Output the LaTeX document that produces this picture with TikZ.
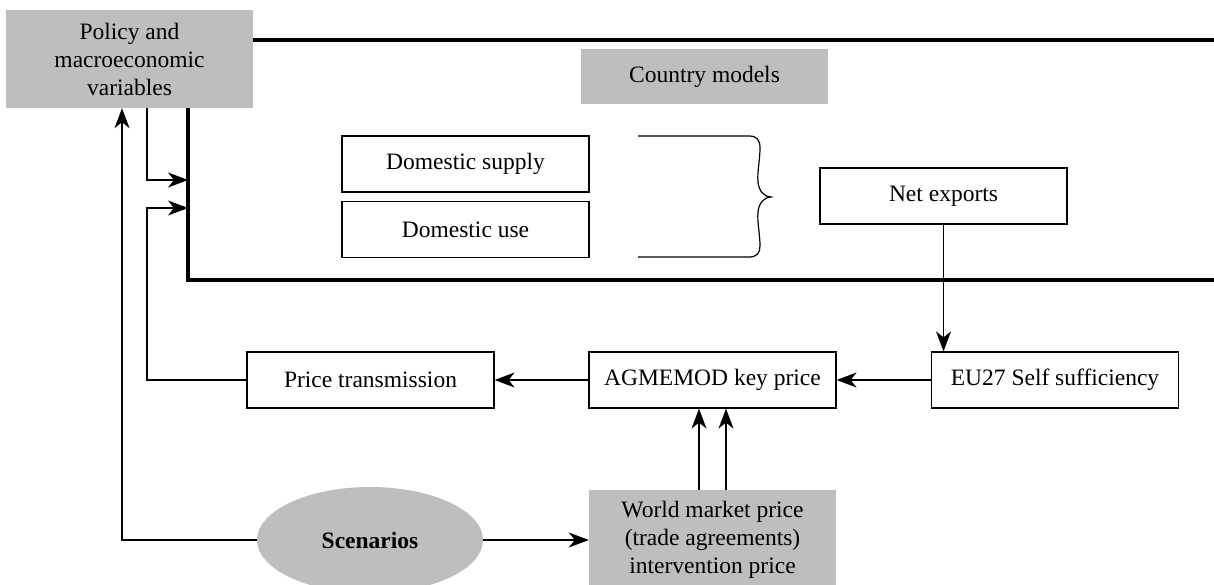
\documentclass[tikz,border=0pt]{standalone}
\usepackage{fontspec}
\setmainfont{Liberation Serif}
\usetikzlibrary{arrows.meta,shapes.geometric}
\definecolor{boxgray}{RGB}{190,190,192}
\begin{document}
\begin{tikzpicture}[x=1pt,y=-1pt,
  every node/.style={font=\fontsize{23.5}{28}\selectfont, inner sep=0pt, align=center},
  plainbox/.style={draw, line width=1.2pt, minimum width=247pt, minimum height=56pt},
  graybox/.style={fill=boxgray, minimum width=247pt},
  conn/.style={line width=1.2pt},
  arr/.style={conn, -{Stealth[length=20pt,width=15pt,inset=6pt]}},
  thickline/.style={line width=3.2pt}]
\useasboundingbox (0,0) rectangle (1214,585);

% nodes
\node[graybox, minimum height=98pt] (policy) at (129.5,59) {Policy and\\macroeconomic\\variables};
\node[graybox, minimum height=55pt] (country) at (704.5,76.5) {Country models};
\node[plainbox] (dsupply) at (465.5,164) {Domestic supply};
\node[plainbox] (duse) at (465.5,229.5) {Domestic use};
\node[plainbox] (netexp) at (943.5,196) {Net exports};
\node[plainbox] (eu27) at (1055,380) {EU27 Self sufficiency};
\node[plainbox] (agmemod) at (712.5,380) {AGMEMOD key price};
\node[plainbox] (pricetr) at (370.5,380) {Price transmission};
\node[graybox, minimum height=100pt] (world) at (712.5,540) {World market price\\(trade agreements)\\intervention price};
\node[ellipse, fill=boxgray, minimum width=226pt, minimum height=106pt, font=\fontsize{23.5}{28}\selectfont\bfseries] (scen) at (370,540) {Scenarios};

% thick frame of country models
\draw[thickline] (policy.east |- 0,40) -- (1220,40);
\draw[thickline] (policy.south -| 188,0) -- (188,280) -- (1220,280);
\coordinate (in1) at (188,180);
\coordinate (in2) at (188,208);

% brace
\draw[conn] (638,136) -- (749,136) .. controls (757,136) and (760,140) .. (760,148)
  .. controls (760,160) and (757,172) .. (758,182) .. controls (759,192) and (765,197) .. (771,197)
  .. controls (765,197) and (759,202) .. (758,212) .. controls (757,222) and (760,234) .. (760,246)
  .. controls (760,253) and (757,257) .. (749,257) -- (638,257);

% connectors
\draw[arr] ([xshift=17.5pt]policy.south) |- (in1);
\draw[arr] (pricetr.west) -| (147,208) -- (in2);
\draw[arr] (scen.west) -| ([xshift=-7.5pt]policy.south);
\draw[arr] (scen.east) -- (world.west);
\draw[arr] ([xshift=-13.5pt]world.north) -- ([xshift=-13.5pt]agmemod.south);
\draw[arr] ([xshift=13.5pt]world.north) -- ([xshift=13.5pt]agmemod.south);
\draw[arr] (netexp.south) -- (netexp.south |- eu27.north);
\draw[arr] (eu27.west) -- (agmemod.east);
\draw[arr] (agmemod.west) -- (pricetr.east);
\end{tikzpicture}
\end{document}
